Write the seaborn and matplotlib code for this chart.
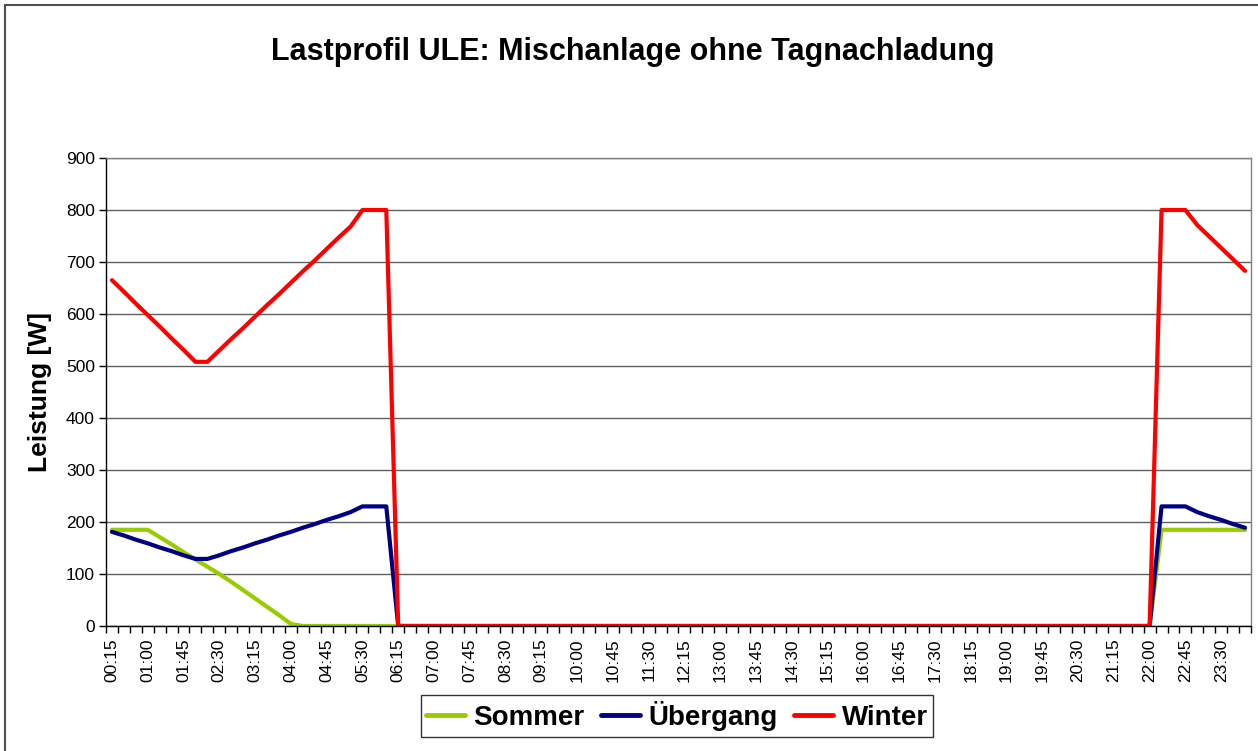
import matplotlib

matplotlib.use('Agg')
import matplotlib.pyplot as plt
from matplotlib.patches import Rectangle
from matplotlib.ticker import FixedLocator
import numpy as np
import pandas as pd
import seaborn as sns

# 96 quarter-hour values, 00:15 .. 24:00
times = ["%02d:%02d" % divmod(15 * (i + 1), 60) for i in range(95)] + ["00:00"]

sommer = ([185, 185, 185, 185, 171, 157, 142, 128, 114, 100, 85, 69,
           53, 37, 21, 4, 0, 0, 0, 0, 0, 0, 0, 0]
          + [0] * 64
          + [185, 185, 185, 185, 185, 185, 185, 185])
uebergang = ([181, 174, 166, 159, 151, 144, 136, 129, 129, 136, 144, 151,
              159, 166, 174, 181, 189, 196, 204, 211, 219, 230, 230, 230]
             + [0] * 64
             + [230, 230, 230, 219, 211, 204, 196, 189])
winter = ([665, 643, 620, 598, 576, 553, 531, 508, 508, 530, 552, 573,
           595, 617, 638, 660, 682, 703, 725, 747, 768, 800, 800, 800]
          + [0] * 64
          + [800, 800, 800, 771, 749, 727, 705, 683])

series_names = ["Sommer", "Übergang", "Winter"]
colors = {"Sommer": "#99CC00", "Übergang": "#000080", "Winter": "#FF0000"}

idx = np.arange(len(times))
df = pd.concat([
    pd.DataFrame({"idx": idx, "Leistung": vals, "Saison": name})
    for name, vals in zip(series_names, [sommer, uebergang, winter])
])

sns.set_style('white')
plt.rcParams['font.family'] = ['Liberation Sans', 'DejaVu Sans']
plt.rcParams['text.color'] = 'black'
plt.rcParams['axes.labelcolor'] = 'black'
plt.rcParams['xtick.color'] = 'black'
plt.rcParams['ytick.color'] = 'black'

fig = plt.figure(figsize=(12.58, 7.51), dpi=100)
ax = fig.add_axes([106 / 1258, 1 - 626 / 751, (1251 - 106) / 1258, (626 - 158) / 751])

sns.lineplot(data=df, x="idx", y="Leistung", hue="Saison", hue_order=series_names,
             palette=colors, linewidth=3, ax=ax, legend=True)

ax.set_xlim(-0.5, len(times) - 0.5)
ax.set_ylim(0, 900)
ax.set_yticks(np.arange(0, 901, 100))
ax.yaxis.grid(True, color='#606060', linewidth=1)
ax.xaxis.grid(False)
ax.set_axisbelow(True)

ax.set_xticks(idx[::3])
ax.set_xticklabels(times[::3], rotation=90, fontsize=12.5)
ax.xaxis.set_minor_locator(FixedLocator(np.arange(-0.5, len(times), 1)))
ax.tick_params(axis='x', which='major', length=0, pad=9)
ax.tick_params(axis='x', which='minor', length=5, width=1, color='black', direction='out', bottom=True)
ax.tick_params(axis='y', length=5, width=1, color='black', direction='out', left=True, labelsize=12.5, pad=3)

for side in ['left', 'bottom']:
    ax.spines[side].set_color('black')
    ax.spines[side].set_linewidth(1)
for side in ['top', 'right']:
    ax.spines[side].set_color('#808080')
    ax.spines[side].set_linewidth(1)

ax.set_xlabel("")
ax.set_ylabel("Leistung [W]", fontsize=19, fontweight='bold', labelpad=10)

fig.text(633 / 1258, 1 - 52 / 751, "Lastprofil ULE: Mischanlage ohne Tagnachladung",
         ha='center', va='center', fontsize=22, fontweight='bold')

handles, labels = ax.get_legend_handles_labels()
ax.get_legend().remove()
leg = fig.legend(handles, labels, loc='center', bbox_to_anchor=(677 / 1258, 1 - 716 / 751),
                 ncol=3, prop={'size': 20, 'weight': 'bold'}, frameon=True, fancybox=False,
                 edgecolor='black', handlelength=1.4, handletextpad=0.3, columnspacing=0.6,
                 borderpad=0.2, borderaxespad=0)
leg.get_frame().set_linewidth(1)
for line in leg.get_lines():
    line.set_linewidth(3.5)

fig.add_artist(Rectangle((5 / 1258, -0.05), 1.2, 1 - 5 / 751 + 0.05, transform=fig.transFigure,
                         fill=False, edgecolor='#505050', linewidth=1.5, clip_on=False))

plt.savefig("out.png", dpi=100)
plt.close()
